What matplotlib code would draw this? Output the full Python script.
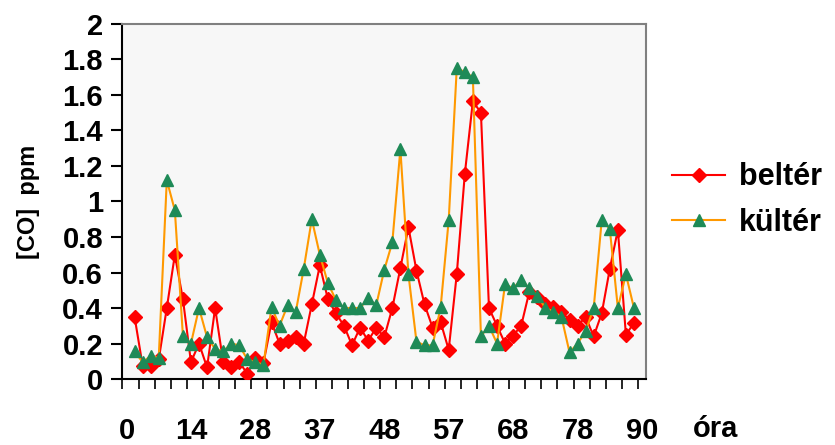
import numpy as np
import matplotlib
matplotlib.use('Agg')
import matplotlib.pyplot as plt
from matplotlib.lines import Line2D

plt.rcParams['font.family'] = ['Liberation Sans', 'DejaVu Sans']
plt.rcParams['font.weight'] = 'bold'

# CO concentration, ppm (one point per measurement)
belter = [0.35, 0.075, 0.075, 0.11, 0.40, 0.70, 0.45, 0.095, 0.20, 0.065,
          0.40, 0.095, 0.07, 0.095, 0.03, 0.12, 0.09, 0.32, 0.20, 0.215,
          0.235, 0.20, 0.42, 0.64, 0.45, 0.37, 0.30, 0.19, 0.29, 0.215,
          0.29, 0.235, 0.40, 0.625, 0.855, 0.61, 0.42, 0.29, 0.32, 0.165,
          0.59, 1.155, 1.565, 1.50, 0.40, 0.30, 0.20, 0.245, 0.30, 0.49,
          0.46, 0.42, 0.405, 0.38, 0.33, 0.30, 0.35, 0.24, 0.37, 0.62,
          0.84, 0.25, 0.315]
kulter = [0.155, 0.095, 0.13, 0.12, 1.12, 0.95, 0.245, 0.20, 0.40, 0.235,
          0.17, 0.155, 0.20, 0.19, 0.11, 0.095, 0.08, 0.405, 0.30, 0.415,
          0.375, 0.62, 0.90, 0.70, 0.54, 0.445, 0.40, 0.40, 0.40, 0.455,
          0.415, 0.615, 0.77, 1.295, 0.59, 0.21, 0.19, 0.19, 0.405, 0.895,
          1.75, 1.73, 1.70, 0.24, 0.30, 0.20, 0.535, 0.51, 0.56, 0.51,
          0.47, 0.40, 0.38, 0.35, 0.15, 0.20, 0.27, 0.40, 0.895, 0.845,
          0.40, 0.59, 0.40]
hour_labels = ['0', '14', '28', '37', '48', '57', '68', '78', '90']

x = np.arange(1, len(belter) + 1)

fig = plt.figure(figsize=(8.35, 4.45), dpi=100)
ax = fig.add_axes([0.1467, 0.1483, 0.627, 0.7978])
ax.set_facecolor('#F7F7F7')

ax.plot(x, belter, color='#FF0000', lw=1.5, marker='D', ms=7.5,
        mfc='#FF0000', mec='#FF0000', zorder=3)
ax.plot(x, kulter, color='#FF9900', lw=1.5, marker='^', ms=9,
        mfc='#1E8A57', mec='#1E8A57', zorder=4)

ax.set_xlim(-0.5, 64.5)
ax.set_ylim(0, 2)
ax.set_yticks(np.arange(0, 2.01, 0.2))
ax.set_yticklabels(['0', '0.2', '0.4', '0.6', '0.8', '1', '1.2', '1.4', '1.6', '1.8', '2'])
ax.tick_params(axis='y', direction='out', length=8, width=1.5, labelsize=21, pad=6)

ax.set_xticks(np.arange(0, 65, 8))
ax.set_xticklabels(hour_labels)
ax.set_xticks(np.arange(-0.5, 64, 2), minor=True)
ax.tick_params(axis='x', which='major', length=0, labelsize=21, pad=27)
ax.tick_params(axis='x', which='minor', direction='out', length=7, width=1.2)

for s in ['top', 'right']:
    ax.spines[s].set_color('#808080')
    ax.spines[s].set_linewidth(1.5)
for s in ['left', 'bottom']:
    ax.spines[s].set_color('black')
    ax.spines[s].set_linewidth(1.5)

ax.set_ylabel('[CO]  ppm', fontsize=17, fontweight='bold', labelpad=16)
ax.text(716 / 835, 1 - 429 / 445, 'óra', transform=fig.transFigure,
        fontsize=21, ha='center', va='center')

handles = [Line2D([], [], color='#FF0000', lw=1.5, marker='D', ms=7.5,
                  mfc='#FF0000', mec='#FF0000'),
           Line2D([], [], color='#FF9900', lw=1.5, marker='^', ms=9,
                  mfc='#1E8A57', mec='#1E8A57')]
fig.legend(handles, ['beltér', 'kültér'], loc='center left',
           bbox_to_anchor=(672 / 835, 1 - 200 / 445), frameon=False,
           fontsize=22, handlelength=1.75, handletextpad=0.45,
           labelspacing=0.5, borderpad=0, borderaxespad=0)

fig.savefig('out.png', dpi=100)
